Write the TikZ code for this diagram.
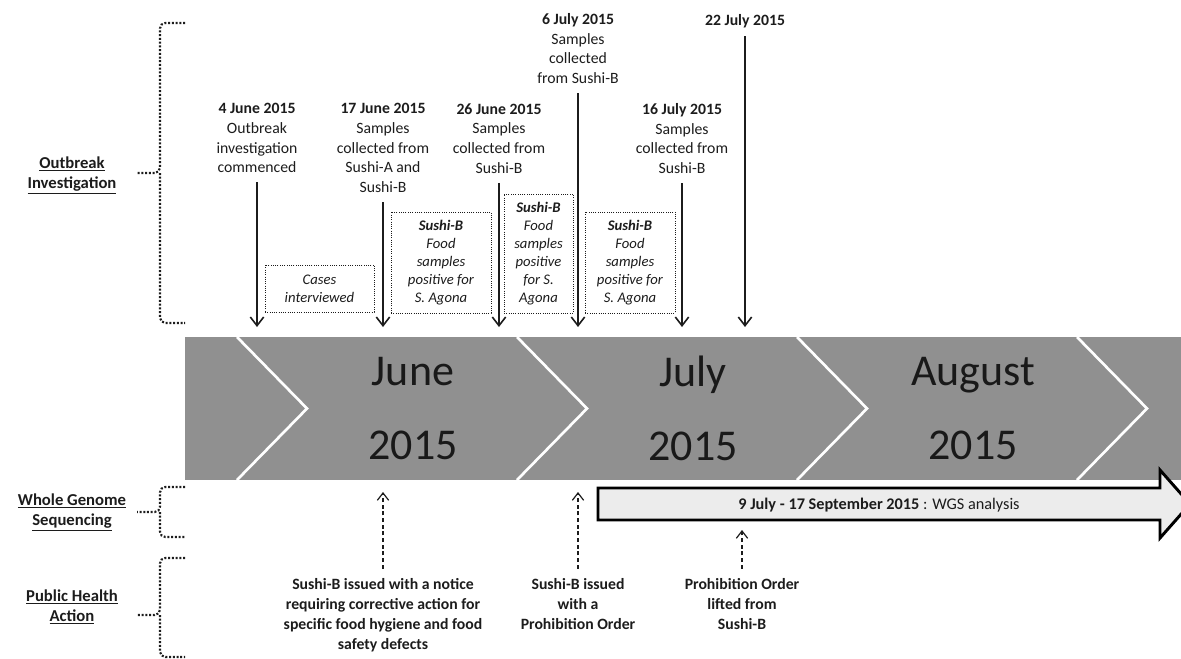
\documentclass[tikz,border=0pt]{standalone}
\usepackage{fontspec}
\setmainfont{Carlito}
\usetikzlibrary{arrows.meta,positioning}

\begin{document}
\begin{tikzpicture}[x=0.75pt, y=-0.75pt, every node/.style={font=\fontsize{11.8}{14.8}\selectfont, text=textdark, align=center, inner sep=0pt}]
        \definecolor{textdark}{RGB}{28,28,28}
        \definecolor{bandgray}{RGB}{144,144,144}
        \definecolor{wgsfill}{RGB}{236,236,236}
        \tikzset{
            evarrow/.style={-{Straight Barb[length=6.5pt,width=10pt]}, line width=1.2pt, draw=textdark, shorten <=7pt},
            actarrow/.style={-{Straight Barb[length=5.5pt,width=8.5pt]}, line width=0.9pt, densely dashed, draw=textdark, shorten <=7pt},
            findbox/.style={draw=textdark, densely dotted, line width=0.7pt, font=\fontsize{11}{13.5}\selectfont\itshape},
            dotbrace/.style={draw=textdark, line width=1.6pt, dash pattern=on 1.5pt off 1.3pt, rounded corners=4pt},
            rowlabel/.style={font=\fontsize{12.5}{15}\selectfont\bfseries},
            actiontext/.style={anchor=north, font=\fontsize{11.8}{15}\selectfont\bfseries},
            monthtext/.style={font=\fontsize{33}{55}\selectfont, text=black!90}
        }
        \useasboundingbox (0,0) rectangle (1181,658);

        % Month band with chevrons
        \fill[bandgray] (185,337) rectangle (1181,480);
        \foreach \k in {0,...,3}
            \draw[white, line width=2pt] ({237+280*\k},337) -- ({307+280*\k},408.5) -- ({237+280*\k},480);
        \node[monthtext] (june) at (413,408.5) {June\\2015};
        \node[monthtext] (july) at (693,408.5) {July\\2015};
        \node[monthtext] (aug) at (973,408.5) {August\\2015};

        % Row labels with dotted braces
        \node[rowlabel] (outlbl) at (72,175) {\underline{Outbreak}\\\underline{Investigation}};
        \node[rowlabel] (wgslbl) at (72,512) {\underline{Whole Genome}\\\underline{Sequencing}};
        \node[rowlabel] (phalbl) at (72,607) {\underline{Public Health}\\\underline{Action}};
        \draw[dotbrace] (185,23) -| (160,173) -- (137,173);
        \draw[dotbrace] (160,173) |- (185,323);
        \draw[dotbrace] (185,487) -| (160,512) -- (137,512);
        \draw[dotbrace] (160,512) |- (185,537);
        \draw[dotbrace] (185,558) -| (160,615) -- (137,615);
        \draw[dotbrace] (160,615) |- (185,657);

        % Outbreak investigation events
        \node[anchor=north] (d4) at (257,103) {\textbf{4 June 2015}\\Outbreak\\investigation\\commenced};
        \node[anchor=north] (d17) at (383,103) {\textbf{17 June 2015}\\Samples\\collected from\\Sushi-A and\\Sushi-B};
        \node[anchor=north] (d26) at (499,103) {\textbf{26 June 2015}\\Samples\\collected from\\Sushi-B};
        \node[anchor=north] (d6) at (578,13) {\textbf{6 July 2015}\\Samples\\collected\\from Sushi-B};
        \node[anchor=north] (d16) at (682,103) {\textbf{16 July 2015}\\Samples\\collected from\\Sushi-B};
        \node[anchor=north] (d22) at (745,14) {\textbf{22 July 2015}};

        % Arrow ends on the band
        \coordinate (d4end) at (257,327);
        \coordinate (d17end) at (383,327);
        \coordinate (d26end) at (499,327);
        \coordinate (d6end) at (578,327);
        \coordinate (d16end) at (682,327);
        \coordinate (d22end) at (745,327);

        % Arrows
        \draw[evarrow] (d4.south) -- (d4end);
        \draw[evarrow] (d17.south) -- (d17end);
        \draw[evarrow] (d26.south) -- (d26end);
        \draw[evarrow] (d6.south) -- (d6end);
        \draw[evarrow] (d16.south) -- (d16end);
        \draw[evarrow, shorten <=6pt] (d22.south) -- (d22end);

        % Findings boxes
        \node[findbox, minimum width=81.75pt, minimum height=35.25pt] (cases) at (319.5,288.5) {Cases\\interviewed};
        \node[findbox, minimum width=75pt, minimum height=75.75pt] (pos1) at (441,262.5) {\textbf{Sushi-B}\\Food\\samples\\positive for\\S. Agona};
        \node[findbox, minimum width=51.75pt, minimum height=89.25pt] (pos2) at (538.5,253.5) {\textbf{Sushi-B}\\Food\\samples\\positive\\for S.\\Agona};
        \node[findbox, minimum width=67.5pt, minimum height=75.75pt] (pos3) at (630,262.5) {\textbf{Sushi-B}\\Food\\samples\\positive for\\S. Agona};

        % WGS analysis arrow
        \draw[draw=black, fill=wgsfill, line width=2.2pt] (598,488) -- (1160,488) -- (1160,470) -- (1190,504) -- (1160,538) -- (1160,520) -- (598,520) -- cycle;
        \node[font=\fontsize{12.2}{13}\selectfont] (wgs) at (879,505) {\textbf{9 July - 17 September 2015} : WGS analysis};

        % Public health actions
        \node[actiontext] (notice) at (383,578) {Sushi-B issued with a notice\\requiring corrective action for\\specific food hygiene and food\\safety defects};
        \node[actiontext] (order) at (578,578) {Sushi-B issued\\with a\\Prohibition Order};
        \node[actiontext] (lifted) at (742,578) {Prohibition Order\\lifted from\\Sushi-B};
        \coordinate (noticeend) at (383,492);
        \coordinate (orderend) at (578,492);
        \coordinate (liftedend) at (742,530);
        \draw[actarrow] (notice.north) -- (noticeend);
        \draw[actarrow] (order.north) -- (orderend);
        \draw[actarrow] (lifted.north) -- (liftedend);
    \end{tikzpicture}
\end{document}
